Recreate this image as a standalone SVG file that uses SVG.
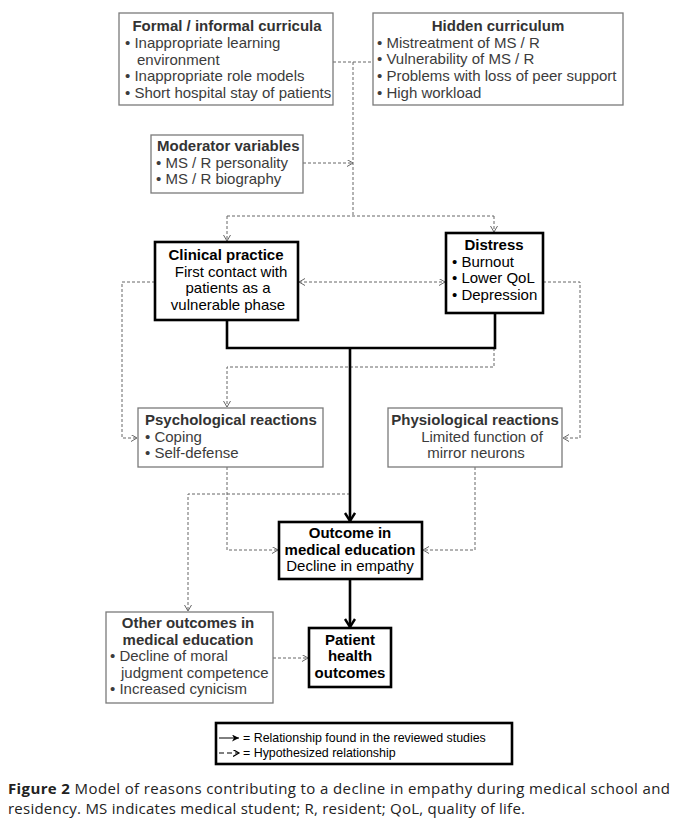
<svg xmlns="http://www.w3.org/2000/svg" width="683" height="826" viewBox="0 0 683 826">
<style>
text{font-family:"Liberation Sans",Arial,sans-serif;font-size:15px;fill:#3c3c3c}
.t{font-weight:bold;fill:#333}
.k{fill:#000}
.kb{fill:#000;font-weight:bold}
.m{text-anchor:middle}
.gb{fill:#fff;stroke:#7a7a7a;stroke-width:1.3}
.bb{fill:#fff;stroke:#000;stroke-width:2.6}
.d{fill:none;stroke:#666;stroke-width:1;stroke-dasharray:3 2}
.s{fill:none;stroke:#000;stroke-width:2.6}
.lg{font-size:12.4px;fill:#000}
.cap{font-family:"Open Sans","Noto Sans",sans-serif;font-size:15px;fill:#222}
</style>
<defs>
<marker id="da" markerUnits="userSpaceOnUse" markerWidth="10" markerHeight="10" refX="6" refY="3.5" orient="auto-start-reverse" viewBox="0 0 10 10">
<path d="M0,0 L6,3.5 L0,7" fill="none" stroke="#666" stroke-width="1"/>
</marker>
<marker id="sa" markerUnits="userSpaceOnUse" markerWidth="14" markerHeight="14" refX="9" refY="5.5" orient="auto" viewBox="0 0 14 14">
<path d="M1,0.5 L9,5.5 L1,10.5" fill="none" stroke="#000" stroke-width="2.4"/>
</marker>
<marker id="la" markerUnits="userSpaceOnUse" markerWidth="10" markerHeight="10" refX="7" refY="3.5" orient="auto" viewBox="0 0 10 10">
<path d="M0,0 L7,3.5 L0,7 L2,3.5 Z" fill="#000"/>
</marker>
<marker id="lh" markerUnits="userSpaceOnUse" markerWidth="10" markerHeight="10" refX="6" refY="3.5" orient="auto" viewBox="0 0 10 10">
<path d="M0,0 L6,3.5 L0,7" fill="none" stroke="#000" stroke-width="1.2"/>
</marker>
</defs>

<g id="connectors">
<path class="d" d="M333,62 H373"/>
<path class="d" d="M353,62 V216"/>
<path class="d" d="M303,163 H353" marker-end="url(#da)"/>
<path class="d" d="M227,216 H494"/>
<path class="d" d="M227,216 V241" marker-end="url(#da)"/>
<path class="d" d="M494,216 V232" marker-end="url(#da)"/>
<path class="d" d="M299,282 H445" marker-start="url(#da)" marker-end="url(#da)"/>
<path class="d" d="M155,282 H122 V438 H137" marker-end="url(#da)"/>
<path class="d" d="M543,282 H580 V438 H563" marker-end="url(#da)"/>
<path class="d" d="M494,348 V367 H227 V407" marker-end="url(#da)"/>
<path class="d" d="M227,467 V550 H278" marker-end="url(#da)"/>
<path class="d" d="M475,467 V550 H423" marker-end="url(#da)"/>
<path class="d" d="M350,494 H188 V611" marker-end="url(#da)"/>
<path class="d" d="M273,658 H308" marker-end="url(#da)"/>
<path class="s" d="M227,320 V348 H495 V313"/>
<path class="s" d="M350,348 V521" marker-end="url(#sa)"/>
<path class="s" d="M350,579 V627" marker-end="url(#sa)"/>
</g>

<g id="formal">
<rect class="gb" x="119" y="13" width="214" height="92"/>
<text class="t m" x="227" y="31">Formal / informal curricula</text>
<text x="125" y="48">• Inappropriate learning</text>
<text x="137" y="65">environment</text>
<text x="125" y="81">• Inappropriate role models</text>
<text x="125" y="98">• Short hospital stay of patients</text>
</g>

<g id="hidden">
<rect class="gb" x="373" y="13" width="250" height="92"/>
<text class="t m" x="498" y="31">Hidden curriculum</text>
<text x="377" y="48">• Mistreatment of MS / R</text>
<text x="377" y="64">• Vulnerability of MS / R</text>
<text x="377" y="81">• Problems with loss of peer support</text>
<text x="377" y="98">• High workload</text>
</g>

<g id="moderator">
<rect class="gb" x="151" y="135" width="152" height="58"/>
<text class="t" x="157" y="151">Moderator variables</text>
<text x="156" y="168">• MS / R personality</text>
<text x="156" y="184">• MS / R biography</text>
</g>

<g id="clinical">
<rect class="bb" x="155" y="242" width="143" height="78"/>
<text class="kb m" x="226" y="260">Clinical practice</text>
<text class="k m" x="231" y="277">First contact with</text>
<text class="k m" x="228" y="293">patients as a</text>
<text class="k m" x="228" y="310">vulnerable phase</text>
</g>

<g id="distress">
<rect class="bb" x="446" y="233" width="97" height="80"/>
<text class="kb m" x="494" y="250">Distress</text>
<text class="k" x="452" y="267">• Burnout</text>
<text class="k" x="452" y="283">• Lower QoL</text>
<text class="k" x="452" y="300">• Depression</text>
</g>

<g id="psychological">
<rect class="gb" x="138" y="408" width="185" height="59"/>
<text class="t" x="145" y="425">Psychological reactions</text>
<text x="145" y="442">• Coping</text>
<text x="145" y="458">• Self-defense</text>
</g>

<g id="physiological">
<rect class="gb" x="388" y="408" width="174" height="59"/>
<text class="t m" x="475" y="425">Physiological reactions</text>
<text class="m" x="482" y="442">Limited function of</text>
<text class="m" x="476" y="458">mirror neurons</text>
</g>

<g id="outcome">
<rect class="bb" x="279" y="522" width="143" height="57"/>
<text class="kb m" x="350" y="538">Outcome in</text>
<text class="kb m" x="350" y="555">medical education</text>
<text class="k m" x="350" y="571">Decline in empathy</text>
</g>

<g id="patient">
<rect class="bb" x="309" y="628" width="82" height="59"/>
<text class="kb m" x="350" y="645">Patient</text>
<text class="kb m" x="350" y="661">health</text>
<text class="kb m" x="350" y="678">outcomes</text>
</g>

<g id="other">
<rect class="gb" x="106" y="612" width="167" height="91"/>
<text class="t m" x="188" y="628">Other outcomes in</text>
<text class="t m" x="188" y="645">medical education</text>
<text x="110" y="661">• Decline of moral</text>
<text x="121" y="678">judgment competence</text>
<text x="110" y="694">• Increased cynicism</text>
</g>

<g id="legend">
<rect class="bb" x="216" y="723" width="296" height="41"/>
<path d="M219,738 H239" stroke="#000" stroke-width="1" marker-end="url(#la)"/>
<text class="lg" x="243" y="742">= Relationship found in the reviewed studies</text>
<path d="M219,753 H239" stroke="#000" stroke-width="1.1" stroke-dasharray="5 3" fill="none" marker-end="url(#lh)"/>
<text class="lg" x="243" y="757">= Hypothesized relationship</text>
</g>

<g id="caption">
<text class="cap" x="8" y="794" textLength="662"><tspan font-weight="bold">Figure 2</tspan> Model of reasons contributing to a decline in empathy during medical school and</text>
<text class="cap" x="8" y="814" textLength="517">residency. MS indicates medical student; R, resident; QoL, quality of life.</text>
</g>
</svg>
